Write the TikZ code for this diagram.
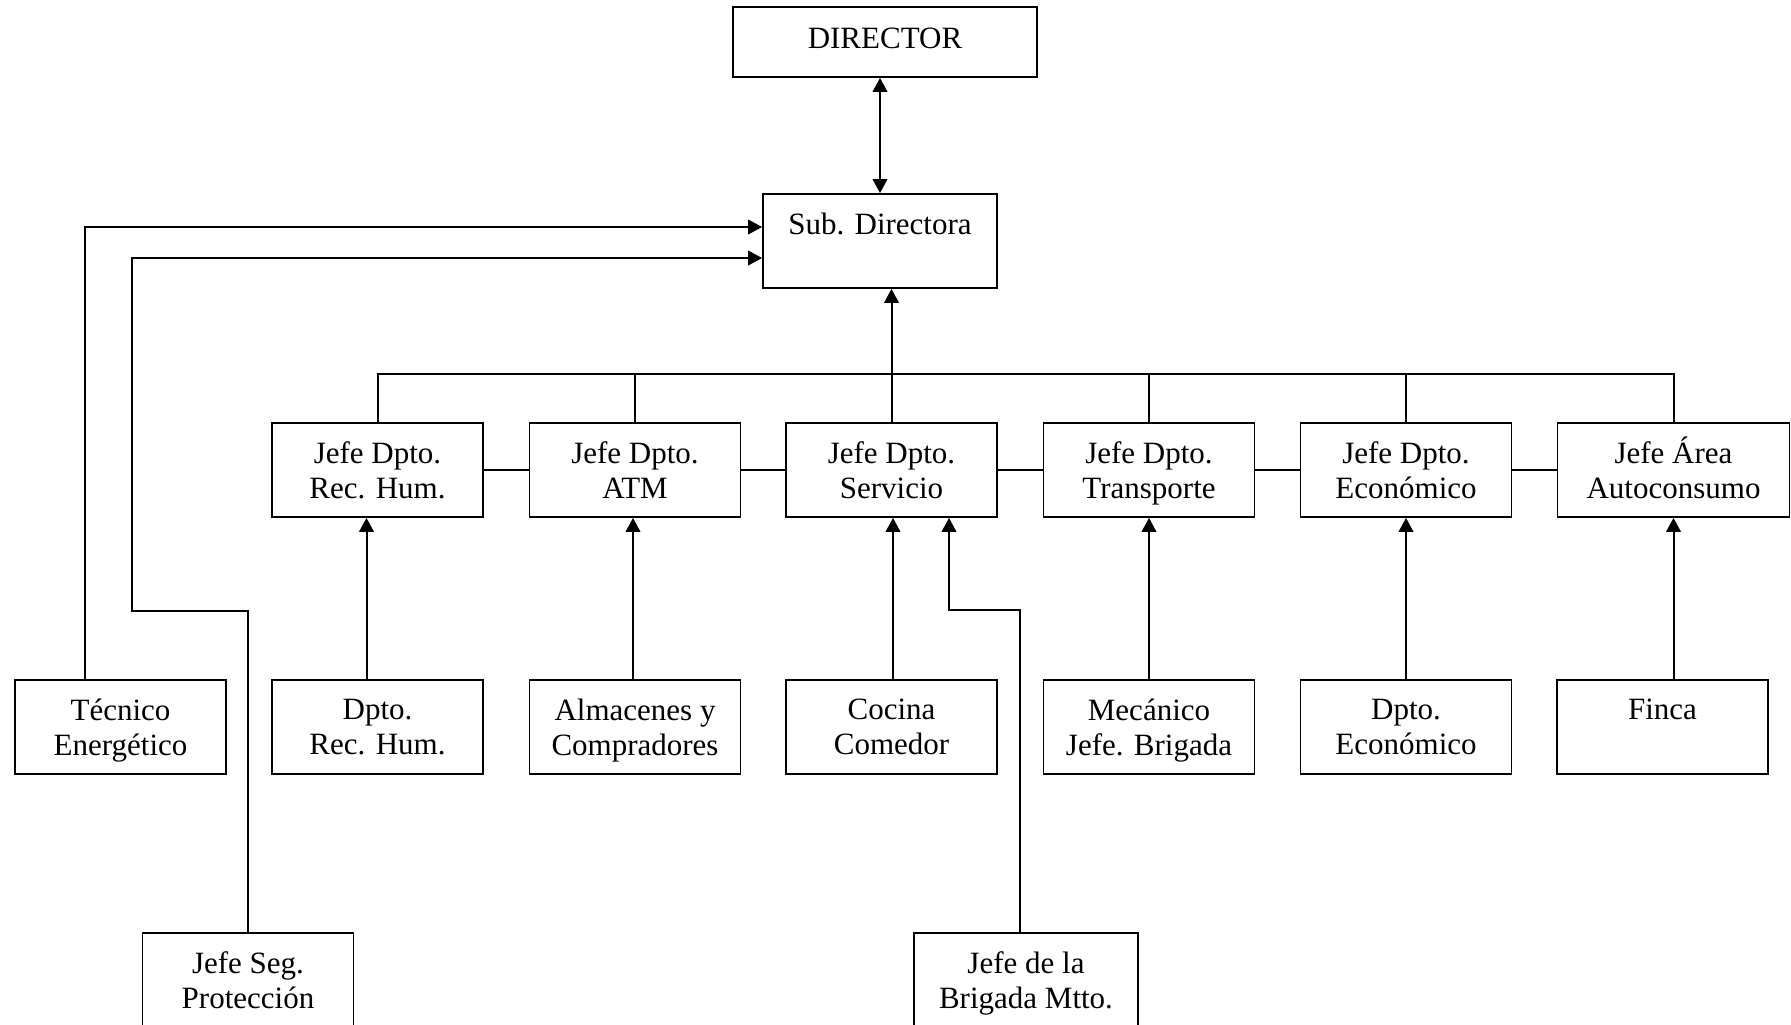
\documentclass[tikz,border=0pt]{standalone}
\usepackage{fontspec}
\setmainfont{Liberation Serif}
\usetikzlibrary{arrows.meta}
\begin{document}
\begin{tikzpicture}[x=0.5pt,y=-0.5pt,
  box/.style={draw, line width=0.9pt, rectangle, inner sep=0pt, align=center,
    font=\fontsize{15.5pt}{17.5pt}\selectfont, text depth=0pt,
    minimum width=105.5pt, minimum height=47pt},
  ln/.style={line width=1pt},
  arr/.style={line width=1pt, -{Triangle[length=7pt,width=7.3pt]}},
  darr/.style={line width=1pt, {Triangle[length=7pt,width=7.3pt]}-{Triangle[length=7pt,width=7.3pt]}}]
\useasboundingbox (0,0) rectangle (1791,1024);
\clip (0,0) rectangle (1791,1024);
\fill[white] (0,0) rectangle (1791,1024);

% top
\node[box, minimum width=152pt, minimum height=35pt, text depth=4.25pt] (dir) at (885,42) {DIRECTOR};
\node[box, minimum width=117pt] (sd) at (880,241) {Sub. Directora\\\mbox{}};

% upper row
\node[box] (rh)  at (377.5,470) {Jefe Dpto.\\Rec. Hum.};
\node[box] (atm) at (635,470)   {Jefe Dpto.\\ATM};
\node[box] (sv)  at (891.5,470) {Jefe Dpto.\\Servicio};
\node[box] (tr)  at (1149,470)  {Jefe Dpto.\\Transporte};
\node[box] (ec)  at (1406,470)  {Jefe Dpto.\\Económico};
\node[box, minimum width=116pt] (au) at (1673.5,470) {Jefe \smash{Á}rea\\Autoconsumo};

% lower row
\node[box] (te)  at (120.5,727) {Técnico\\Energético};
\node[box] (drh) at (377.5,727) {Dpto.\\Rec. Hum.};
\node[box] (alm) at (635,727)   {Almacenes y\\Compradores};
\node[box] (coc) at (891.5,727) {Cocina\\Comedor};
\node[box] (mec) at (1149,727)  {Mecánico\\Jefe. Brigada};
\node[box] (dec) at (1406,727)  {Dpto.\\Económico};
\node[box] (fi)  at (1662.5,727) {Finca\\\mbox{}};

% bottom (cut off)
\node[box] (js) at (248,980) {Jefe Seg.\\Protección};
\node[box, minimum width=112pt] (br) at (1026,980) {Jefe de la\\Brigada Mtto.};

% director <-> sub directora
\draw[darr] (sd.north |- dir.south) -- (sd.north);

% bus
\coordinate (bus) at (0,374);
\draw[ln] (rh.north) -- (rh.north |- bus) -- (au.north |- bus) -- (au.north);
\draw[ln] (atm.north) -- (atm.north |- bus);
\draw[ln] (tr.north) -- (tr.north |- bus);
\draw[ln] (ec.north) -- (ec.north |- bus);
\draw[arr] (sv.north) -- (sv.north |- sd.south);

% horizontal links
\draw[ln] (rh.east) -- (atm.west);
\draw[ln] (atm.east) -- (sv.west);
\draw[ln] (sv.east) -- (tr.west);
\draw[ln] (tr.east) -- (ec.west);
\draw[ln] (ec.east) -- (au.west);

% lower to upper
\draw[arr] ([xshift=-5.5pt]drh.north) -- ([xshift=-5.5pt]rh.south);
\draw[arr] ([xshift=-1pt]alm.north) -- ([xshift=-1pt]atm.south);
\draw[arr] ([xshift=0.75pt]coc.north) -- ([xshift=0.75pt]sv.south);
\draw[arr] (mec.north) -- (tr.south);
\draw[arr] (dec.north) -- (ec.south);
\draw[arr] (au.south |- fi.north) -- (au.south);

% tecnico and seguridad to sub directora
\draw[arr] ([xshift=-17.75pt]te.north) |- ([yshift=7pt]sd.west);
\coordinate (jk) at (132,611);
\draw[arr] (js.north) |- (jk) |- ([yshift=-8.5pt]sd.west);

% brigada to servicio
\coordinate (bk) at (949,610);
\draw[arr] ([xshift=-3pt]br.north) |- (bk) -- (bk |- sv.south);
\end{tikzpicture}
\end{document}
